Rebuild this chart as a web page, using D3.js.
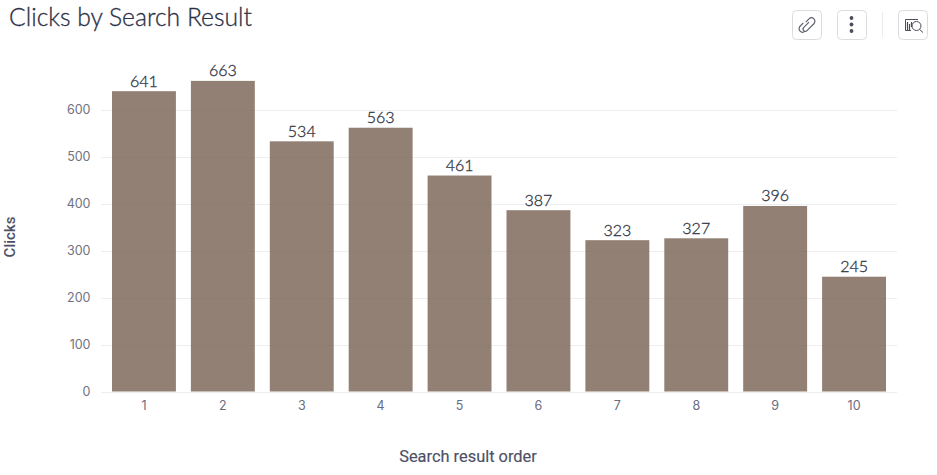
<!DOCTYPE html>
<html>
<head>
<meta charset="utf-8">
<title>Clicks by Search Result</title>
<script src="https://cdn.jsdelivr.net/npm/d3@7"></script>
<style>
  html, body { margin: 0; padding: 0; background: #fff; }
  svg { display: block; }
  text { font-family: "Inter", sans-serif; }
  .title { font-family: "Lato", sans-serif; font-weight: 300; font-size: 24.7px; fill: #2b3044; stroke: #2b3044; stroke-width: 0.3; }
  .tick-label { font-size: 12.5px; fill: #70727f; }
  .x-label { font-size: 12.5px; fill: #6a6c80; }
  .axis-title { font-family: "Roboto", sans-serif; font-size: 16.4px; font-weight: 400; fill: #4d5064; stroke: #4d5064; stroke-width: 0.15; }
  .y-title { font-weight: 500; font-size: 15px; stroke: none; }
  .value { font-family: "Lato", sans-serif; font-weight: 300; font-size: 16px; fill: #2f3442; stroke: #2f3442; stroke-width: 0.3; }
</style>
</head>
<body>
<div id="chart-area"></div>
<script>
const categories = ['1','2','3','4','5','6','7','8','9','10'];
const clicks = [641,663,534,563,461,387,323,327,396,245];
const yTicks = [0,100,200,300,400,500,600];

const svg = d3.select("#chart-area").append("svg")
    .attr("width", 937)
    .attr("height", 475);

var x = d3.scaleBand()
    .domain(categories)
    .range([104.5, 893.5])
    .paddingInner(0.19)
    .paddingOuter(0.095);

var y = d3.scaleLinear()
    .domain([0, 600])
    .range([391.5, 110.4]);

svg.append("text")
    .attr("class", "title")
    .attr("x", 9)
    .attr("y", 26)
    .text("Clicks by Search Result");

// gridlines sit under the bars
svg.append("g").selectAll("line")
    .data(yTicks)
    .enter().append("line")
    .attr("x1", 101)
    .attr("x2", 897)
    .attr("y1", d => Math.round(y(d)) + 0.5)
    .attr("y2", d => Math.round(y(d)) + 0.5)
    .attr("stroke", "#eeeeef")
    .attr("stroke-width", 1);

svg.append("g").selectAll("text")
    .data(yTicks)
    .enter().append("text")
    .attr("class", "tick-label")
    .attr("x", 90.5)
    .attr("y", d => y(d) + 4)
    .attr("text-anchor", "end")
    .text(d => d);

svg.append("g").selectAll("rect")
    .data(clicks)
    .enter().append("rect")
    .attr("x", (d,i) => x(categories[i]))
    .attr("y", d => y(d))
    .attr("width", x.bandwidth())
    .attr("height", d => y(0) - y(d))
    .attr("fill", "#7b6657")
    .attr("fill-opacity", 0.83);

svg.append("g").selectAll("text")
    .data(clicks)
    .enter().append("text")
    .attr("class", "value")
    .attr("x", (d,i) => x(categories[i]) + x.bandwidth()/2)
    .attr("y", d => y(d) - 4.5)
    .attr("text-anchor", "middle")
    .text(d => d);

svg.append("g").selectAll("text")
    .data(categories)
    .enter().append("text")
    .attr("class", "x-label")
    .attr("x", d => x(d) + x.bandwidth()/2)
    .attr("y", 410)
    .attr("text-anchor", "middle")
    .text(d => d);

svg.append("text")
    .attr("class", "axis-title")
    .attr("x", 468)
    .attr("y", 462)
    .attr("text-anchor", "middle")
    .text("Search result order");

svg.append("text")
    .attr("class", "axis-title y-title")
    .attr("transform", "translate(15,237) rotate(-90)")
    .attr("text-anchor", "middle")
    .text("Clicks");

// toolbar buttons
const buttons = [{x:792.5,w:29},{x:837.5,w:29},{x:898.5,w:29}];
svg.append("g").selectAll("rect")
    .data(buttons)
    .enter().append("rect")
    .attr("x", d => d.x)
    .attr("y", 10.5)
    .attr("width", d => d.w)
    .attr("height", 29)
    .attr("rx", 4)
    .attr("fill", "#fff")
    .attr("stroke", "#dcdcdf");

svg.append("line")
    .attr("x1", 882.5).attr("x2", 882.5)
    .attr("y1", 12).attr("y2", 37)
    .attr("stroke", "#ebebec");

// link icon
svg.append("g")
    .attr("transform", "translate(807,25) rotate(45) scale(1.15)")
    .selectAll("path")
    .data(["M-2.5,-1 V-5 A3,3 0 0 1 3.5,-5 V3.5 A2,2 0 0 1 -0.5,3.5 V-3",
           "M-3.5,1 V5 A3,3 0 0 0 2.5,5"])
    .enter().append("path")
    .attr("d", d => d)
    .attr("fill", "none")
    .attr("stroke", "#5b5d6b")
    .attr("stroke-width", 1);

// three dots
svg.append("g").selectAll("circle")
    .data([-6.5,0,6.5])
    .enter().append("circle")
    .attr("cx", 851.5)
    .attr("cy", d => 24.5 + d)
    .attr("r", 1.9)
    .attr("fill", "#4b4d5a");

// chart + magnifier icon
const icon = svg.append("g").attr("fill", "none").attr("stroke", "#4b4d5a");
icon.append("path").attr("d", "M918,19.5 H905.5 V30.5 H911").attr("stroke-width", 1);
icon.append("path").attr("d", "M907.5,22 V30 M909.5,24 V30 M911.5,22 V27").attr("stroke-width", 1.2);
icon.append("circle").attr("cx", 916.5).attr("cy", 26).attr("r", 4.5).attr("stroke-width", 1);
icon.append("line").attr("x1", 919.5).attr("y1", 29.5).attr("x2", 923).attr("y2", 32.5).attr("stroke-width", 1);
</script>
</body>
</html>
